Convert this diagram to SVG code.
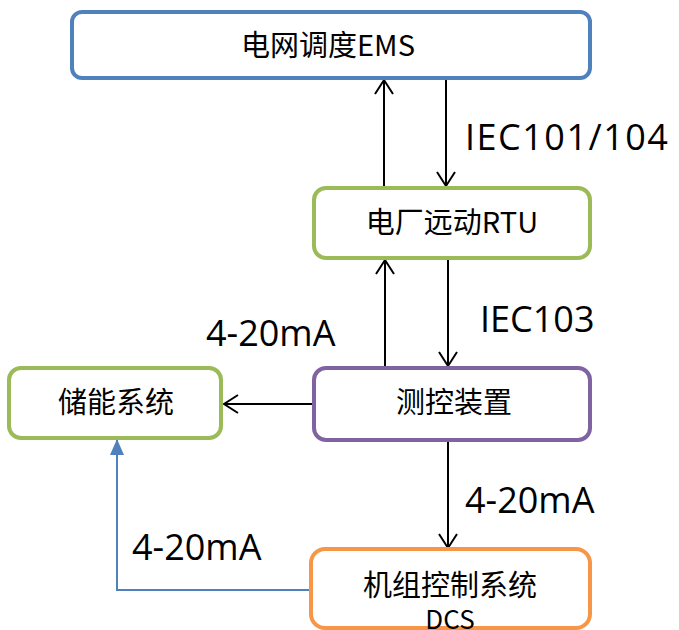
<svg xmlns="http://www.w3.org/2000/svg" width="679" height="630" viewBox="0 0 679 630">
<defs>
<style>
.box{fill:#fff;stroke-width:4}
.t{font-family:"Noto Sans CJK SC","Noto Sans",sans-serif;font-size:29px;fill:#000;text-anchor:middle}
.lbl{font-family:"Open Sans","Liberation Sans",sans-serif;font-size:36px;fill:#000}
.c{fill:none;stroke:#000;stroke-width:2}
</style>
<marker id="open" viewBox="0 0 20 20" refX="18" refY="10" markerWidth="20" markerHeight="20" markerUnits="userSpaceOnUse" orient="auto">
<path d="M4,1 L18,10 L4,19" fill="none" stroke="#000" stroke-width="2"/>
</marker>
<marker id="tri" viewBox="0 0 16 16" refX="15" refY="8" markerWidth="16" markerHeight="16" markerUnits="userSpaceOnUse" orient="auto">
<path d="M0,1 L16,8 L0,15 Z" fill="#4f81bd"/>
</marker>
</defs>
<rect width="679" height="630" fill="#fff"/>
<g id="connectors">
<line class="c" x1="384" y1="186" x2="384" y2="80" marker-end="url(#open)"/>
<line class="c" x1="446" y1="80" x2="446" y2="186" marker-end="url(#open)"/>
<line class="c" x1="385" y1="366" x2="385" y2="260" marker-end="url(#open)"/>
<line class="c" x1="448" y1="260" x2="448" y2="366" marker-end="url(#open)"/>
<line class="c" x1="313" y1="404" x2="224" y2="404" marker-end="url(#open)"/>
<line class="c" x1="448" y1="442" x2="448" y2="548" marker-end="url(#open)"/>
<polyline points="310,590 117,590 117,440" fill="none" stroke="#4f81bd" stroke-width="2" marker-end="url(#tri)"/>
<text class="lbl" x="465" y="150" letter-spacing="1.5">IEC101/104</text>
<text class="lbl" x="480" y="332">IEC103</text>
<text class="lbl" x="206" y="346">4-20mA</text>
<text class="lbl" x="465" y="513">4-20mA</text>
<text class="lbl" x="132" y="560">4-20mA</text>
</g>
<g id="ems">
<rect class="box" x="72" y="12" width="518" height="66" rx="10" stroke="#4f81bd"/>
<text class="t" x="328" y="56">电网调度EMS</text>
</g>
<g id="rtu">
<rect class="box" x="314" y="188" width="276" height="70" rx="12" stroke="#9bbb59"/>
<text class="t" x="452" y="233">电厂远动RTU</text>
</g>
<g id="storage">
<rect class="box" x="9" y="368" width="212" height="70" rx="12" stroke="#9bbb59"/>
<text class="t" x="116" y="413">储能系统</text>
</g>
<g id="measure">
<rect class="box" x="314" y="368" width="276" height="72" rx="12" stroke="#8064a2"/>
<text class="t" x="454" y="413">测控装置</text>
</g>
<g id="dcs">
<rect class="box" x="311" y="549" width="279" height="79" rx="14" stroke="#f79646"/>
<text class="t" x="450" y="596">机组控制系统</text>
<text class="t" x="450" y="629" style="font-size:26px">DCS</text>
</g>
</svg>
